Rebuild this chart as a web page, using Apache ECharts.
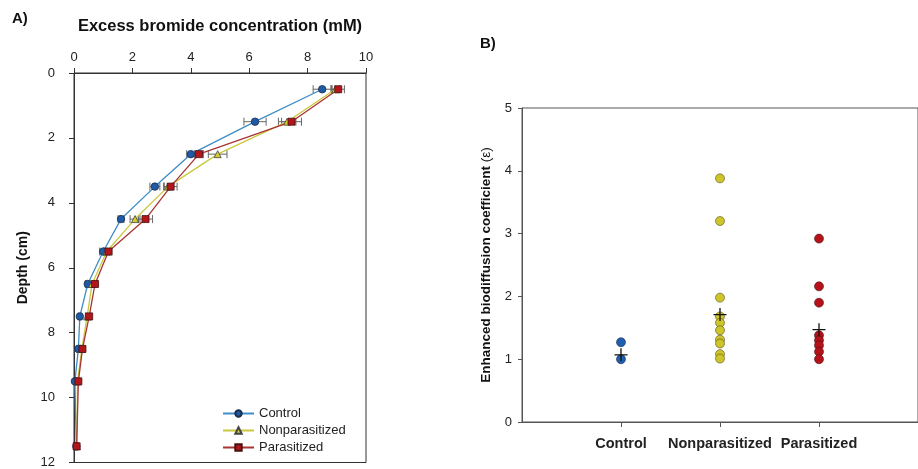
<!DOCTYPE html>
<html>
<head>
<meta charset="utf-8">
<script src="https://cdn.jsdelivr.net/npm/echarts@6/dist/echarts.min.js"></script>
<style>
html,body{margin:0;padding:0;background:#fff;}
#c{width:918px;height:469px;}
</style>
</head>
<body>
<div id="c"></div>
<script>
// Panel A data
var depths = [0.5, 1.5, 2.5, 3.5, 4.5, 5.5, 6.5, 7.5, 8.5, 9.5, 11.5];
var controlConc = [8.5, 6.2, 4.0, 2.77, 1.61, 1.0, 0.47, 0.2, 0.15, 0.03, 0.08];
var nonparConc = [8.95, 7.3, 4.92, 3.22, 2.09, 1.12, 0.62, 0.45, 0.27, 0.12, 0.1];
var parConc = [9.05, 7.45, 4.28, 3.31, 2.45, 1.18, 0.72, 0.52, 0.29, 0.15, 0.09];
var controlErr = [0.31, 0.38, 0.14, 0.17, 0.1, 0.12, 0.08, 0.05, 0.05, 0.04, 0.03];
var nonparErr = [0.15, 0.3, 0.32, 0.15, 0.17, 0.1, 0.08, 0.06, 0.05, 0.04, 0.03];
var parErr = [0.21, 0.34, 0.15, 0.22, 0.24, 0.12, 0.08, 0.06, 0.05, 0.04, 0.03];
var xTicksA = [0, 2, 4, 6, 8, 10];
var yTicksA = [0, 2, 4, 6, 8, 10, 12];

// Panel B data
var groups = ['Control', 'Nonparasitized', 'Parasitized'];
var controlEps = [1.27, 1.0];
var nonparEps = [3.88, 3.2, 1.98, 1.68, 1.58, 1.46, 1.31, 1.25, 1.08, 1.01];
var parEps = [2.92, 2.16, 1.9, 1.38, 1.3, 1.22, 1.12, 1.0];
var groupMeans = [1.07, 1.71, 1.47];

var FONT = '"Liberation Sans", Arial, sans-serif';

function pairs(xs, ys) { return xs.map(function (x, i) { return [x, ys[i]]; }); }
function errData(vals, errs) { return vals.map(function (v, i) { return [v - errs[i], v + errs[i], depths[i]]; }); }
function groupPts(idx, vals) { return vals.map(function (v) { return [idx, v]; }); }

function errRender(params, api) {
  var lo = api.coord([api.value(0), api.value(2)]);
  var hi = api.coord([api.value(1), api.value(2)]);
  var h = 4;
  var st = { stroke: '#666', lineWidth: 1 };
  return {
    type: 'group',
    children: [
      { type: 'line', shape: { x1: lo[0], y1: lo[1], x2: hi[0], y2: hi[1] }, style: st },
      { type: 'line', shape: { x1: lo[0], y1: lo[1] - h, x2: lo[0], y2: lo[1] + h }, style: st },
      { type: 'line', shape: { x1: hi[0], y1: hi[1] - h, x2: hi[0], y2: hi[1] + h }, style: st }
    ]
  };
}

var chart = echarts.init(document.getElementById('c'));
var axisCol = '#333';
var option = {
  backgroundColor: '#fff',
  animation: false,
  textStyle: { fontFamily: FONT },
  graphic: [
    { type: 'text', left: 12, top: 11, style: { text: 'A)', font: 'bold 15px ' + FONT, fill: '#111' } },
    { type: 'text', left: 480, top: 36, style: { text: 'B)', font: 'bold 15px ' + FONT, fill: '#111' } }
  ],
  legend: {
    data: ['Control', 'Nonparasitized', 'Parasitized'],
    orient: 'vertical',
    left: 222, top: 406, padding: 0, height: 60,
    itemWidth: 31, itemHeight: 8, itemGap: 2,
    textStyle: { fontSize: 13, color: '#222', fontFamily: FONT, lineHeight: 15 }
  },
  grid: [
    { left: 74, top: 73, width: 292, height: 390, show: true, borderColor: axisCol, borderWidth: 1, backgroundColor: 'transparent' },
    { left: 522, top: 108, right: -8, height: 314, show: true, borderColor: '#555', borderWidth: 1, backgroundColor: 'transparent' }
  ],
  xAxis: [
    {
      gridIndex: 0, type: 'value', position: 'top', min: 0, max: 10, interval: 2,
      name: 'Excess bromide concentration (mM)', nameLocation: 'middle', nameGap: 38,
      nameTextStyle: { fontWeight: 'bold', fontSize: 16.5, color: '#111' },
      axisLine: { show: true, lineStyle: { color: axisCol } },
      axisTick: { show: true, length: 5, lineStyle: { color: axisCol } },
      axisLabel: { fontSize: 13, color: '#222', margin: 9 },
      splitLine: { show: false }
    },
    {
      gridIndex: 1, type: 'value', min: 0, max: 4, interval: 1,
      axisLine: { show: true, lineStyle: { color: '#555' } },
      axisTick: { show: true, length: 5, customValues: [1, 2, 3], lineStyle: { color: '#555' } },
      axisLabel: {
        customValues: [1, 2, 3], fontSize: 14.5, fontWeight: 'bold', color: '#222', margin: 14,
        formatter: function (v) { return groups[Math.round(v) - 1] || ''; }
      },
      splitLine: { show: false }
    }
  ],
  yAxis: [
    {
      gridIndex: 0, type: 'value', inverse: true, min: 0, max: 12, interval: 2,
      name: 'Depth (cm)', nameLocation: 'middle', nameGap: 44, nameRotate: 90,
      nameTextStyle: { fontWeight: 'bold', fontSize: 14, color: '#111' },
      axisLine: { show: true, lineStyle: { color: axisCol } },
      axisTick: { show: true, length: 5, lineStyle: { color: axisCol } },
      axisLabel: { fontSize: 13, color: '#222', margin: 19 },
      splitLine: { show: false }
    },
    {
      gridIndex: 1, type: 'value', min: 0, max: 5, interval: 1,
      name: '{b|Enhanced biodiffusion coefficient }{n|(ε)}', nameLocation: 'middle', nameGap: 29, nameRotate: 90,
      nameTextStyle: {
        rich: {
          b: { fontWeight: 'bold', fontSize: 13.5, color: '#111', fontFamily: FONT },
          n: { fontWeight: 'normal', fontSize: 13.5, color: '#111', fontFamily: FONT }
        }
      },
      axisLine: { show: true, lineStyle: { color: '#555' } },
      axisTick: { show: true, length: 4, lineStyle: { color: '#555' } },
      axisLabel: { fontSize: 13, color: '#222', margin: 10 },
      splitLine: { show: false }
    }
  ],
  series: [
    { type: 'custom', name: 'errC', xAxisIndex: 0, yAxisIndex: 0, renderItem: errRender, data: errData(controlConc, controlErr), z: 1 },
    { type: 'custom', name: 'errN', xAxisIndex: 0, yAxisIndex: 0, renderItem: errRender, data: errData(nonparConc, nonparErr), z: 1 },
    { type: 'custom', name: 'errP', xAxisIndex: 0, yAxisIndex: 0, renderItem: errRender, data: errData(parConc, parErr), z: 1 },
    {
      type: 'line', name: 'Control', xAxisIndex: 0, yAxisIndex: 0, data: pairs(controlConc, depths),
      symbol: 'circle', symbolSize: 7.5, showAllSymbol: true,
      lineStyle: { color: '#3f8dc6', width: 1.3 },
      itemStyle: { color: '#1f5aa6', borderColor: '#1b2d4f', borderWidth: 0.8 }, z: 3
    },
    {
      type: 'line', name: 'Nonparasitized', xAxisIndex: 0, yAxisIndex: 0, data: pairs(nonparConc, depths),
      symbol: 'triangle', symbolSize: 7, showAllSymbol: true,
      lineStyle: { color: '#c9c83e', width: 1.3 },
      itemStyle: { color: '#d2cd32', borderColor: '#444', borderWidth: 0.8 }, z: 3
    },
    {
      type: 'line', name: 'Parasitized', xAxisIndex: 0, yAxisIndex: 0, data: pairs(parConc, depths),
      symbol: 'rect', symbolSize: 7, showAllSymbol: true,
      lineStyle: { color: '#a83434', width: 1.3 },
      itemStyle: { color: '#b3161a', borderColor: '#4a1010', borderWidth: 0.8 }, z: 3
    },
    {
      type: 'scatter', name: 'bC', xAxisIndex: 1, yAxisIndex: 1, data: groupPts(1, controlEps),
      symbol: 'circle', symbolSize: 9, itemStyle: { color: '#1f5fb0', borderColor: '#1b2d4f', borderWidth: 0.6, opacity: 1 }
    },
    {
      type: 'scatter', name: 'bN', xAxisIndex: 1, yAxisIndex: 1, data: groupPts(2, nonparEps),
      symbol: 'circle', symbolSize: 9, itemStyle: { color: '#cdc52a', borderColor: '#55501a', borderWidth: 0.6, opacity: 1 }
    },
    {
      type: 'scatter', name: 'bP', xAxisIndex: 1, yAxisIndex: 1, data: groupPts(3, parEps),
      symbol: 'circle', symbolSize: 9, itemStyle: { color: '#b5121a', borderColor: '#4a1010', borderWidth: 0.6, opacity: 1 }
    },
    {
      type: 'scatter', name: 'means', xAxisIndex: 1, yAxisIndex: 1,
      data: groupMeans.map(function (m, i) { return [i + 1, m]; }),
      symbol: 'path://M0,9H20V11H0Z M9,0H11V20H9Z', symbolSize: 13,
      itemStyle: { color: '#111', opacity: 1 }, z: 5
    }
  ]
};
chart.setOption(option);
</script>
</body>
</html>
